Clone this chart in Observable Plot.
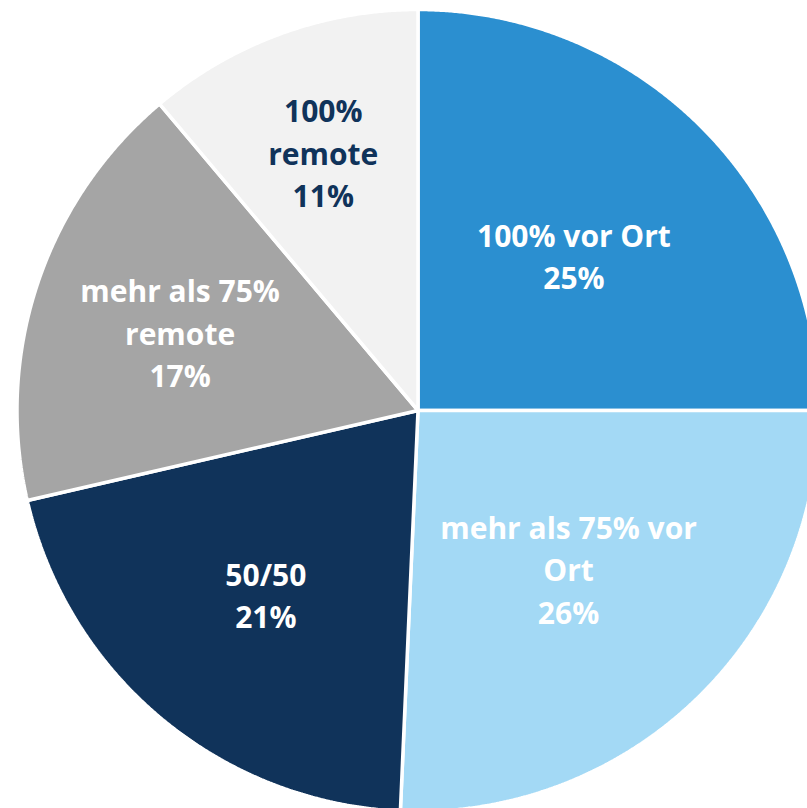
<!DOCTYPE html>
<html>
<head>
<meta charset="utf-8">
<script src="https://cdn.jsdelivr.net/npm/d3@7"></script>
<script src="https://cdn.jsdelivr.net/npm/@observablehq/plot@0.6"></script>
<style>
  html, body { margin: 0; padding: 0; background: #ffffff; }
  #chart { width: 807px; height: 808px; overflow: hidden; }
</style>
</head>
<body>
<div id="chart"></div>
<script>
// ---- data ----
const categories = ["100% vor Ort", "mehr als 75% vor Ort", "50/50", "mehr als 75% remote", "100% remote"];
const shares = [25.0, 25.7, 20.7, 17.45, 11.15];
const labelLines = ["100% vor Ort", "mehr als 75% vor\nOrt", "50/50", "mehr als 75%\nremote", "100%\nremote"];
const percentLabels = ["25%", "26%", "21%", "17%", "11%"];

// ---- style ----
const sliceColors = ["#2b8fd0", "#a3d9f5", "#10335a", "#a5a5a5", "#f2f2f2"];
const textColors = ["#ffffff", "#ffffff", "#ffffff", "#ffffff", "#10335a"];

// ---- layout ----
const W = 807, H = 808;
const cx = 417.5, cy = 410, R = 401;

const total = d3.sum(shares);
const pie = d3.pie().sort(null).value(d => d.share);
const table = categories.map((c, i) => ({cat: c, share: shares[i], label: labelLines[i] + "\n" + percentLabels[i], i}));
const arcs = pie(table);

// polygon vertices for each slice (unit circle, y up)
const poly = [];
arcs.forEach(a => {
  poly.push({cat: a.data.cat, x: 0, y: 0});
  const steps = Math.max(2, Math.ceil((a.endAngle - a.startAngle) / (Math.PI / 720)));
  for (let k = 0; k <= steps; k++) {
    const t = a.startAngle + (a.endAngle - a.startAngle) * k / steps;
    poly.push({cat: a.data.cat, x: Math.sin(t), y: Math.cos(t)});
  }
});

// label anchors: mid-angle, radius grows for smaller slices
const labels = arcs.map(a => {
  const mid = (a.startAngle + a.endAngle) / 2;
  const p = a.data.share / total;
  const f = 0.55 + (0.25 - p);
  return {label: a.data.label, x: f * Math.sin(mid), y: f * Math.cos(mid), color: textColors[a.data.i]};
});

const chart = Plot.plot({
  width: W,
  height: H,
  margin: 0,
  x: {type: "linear", domain: [-cx / R, (W - cx) / R], range: [0, W], axis: null},
  y: {type: "linear", domain: [-(H - cy) / R, cy / R], range: [H, 0], axis: null},
  color: {domain: categories, range: sliceColors},
  style: {background: "#ffffff"},
  marks: [
    Plot.line(poly, {x: "x", y: "y", z: "cat", fill: "cat", stroke: "#ffffff", strokeWidth: 3.5, strokeLinejoin: "miter", curve: "linear-closed"}),
    Plot.text(labels, {
      x: "x", y: "y", text: "label", fill: "color",
      fontFamily: "'Open Sans', 'Noto Sans', sans-serif",
      fontWeight: 700, fontSize: 30, lineHeight: 1.42,
      textAnchor: "middle", lineAnchor: "middle"
    })
  ]
});
document.getElementById("chart").appendChild(chart);
</script>
</body>
</html>
